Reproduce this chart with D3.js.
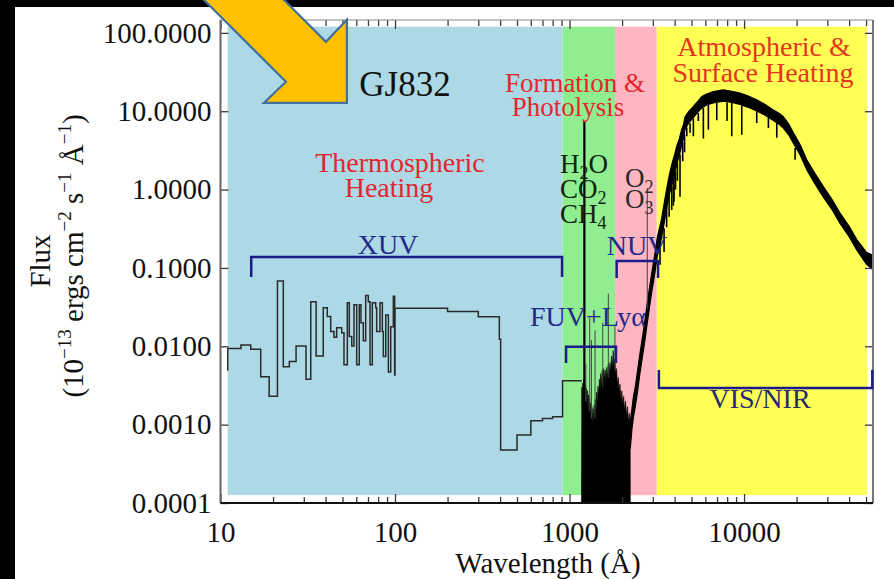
<!DOCTYPE html>
<html>
<head>
<meta charset="utf-8">
<script src="https://cdn.jsdelivr.net/npm/d3@7"></script>
<style>
  html, body { margin: 0; padding: 0; background: #000; }
  svg { display: block; }
  text { font-family: "Liberation Serif", "Times New Roman", serif; }
</style>
</head>
<body>
<svg id="chart" width="894" height="579"></svg>
<script>
// ---------------- data ----------------
// spectral regions (Å): XUV | FUV | NUV | VIS/NIR
const bandEdges = [11, 912, 1820, 3160, 50700];

// X-ray / EUV binned spectrum: bin start wavelength (Å) and flux
const xuvBinStart = [10.9, 11.0, 13.1, 14.9, 17.0, 19.0, 21.2, 22.9, 24.8, 27.1, 30.9, 32.9, 35.3, 38.8,
  40.9, 42.8, 44.7, 46.3, 49.5, 51.0, 53.3, 54.7, 56.5, 58.2, 60.3, 62.4, 63.8, 65.8, 67.9, 70.3,
  71.9, 74.1, 77.5, 78.5, 82.0, 84.6, 85.7, 88.5, 91.6, 94.5, 97.8, 99.5, 100, 200, 300, 396, 403,
  500, 600, 700, 800, 912];
const xuvBinFlux = [0.0050, 0.0094, 0.0104, 0.0092, 0.0041, 0.0023, 0.068, 0.0055, 0.0064, 0.0101, 0.0038, 0.037, 0.0075, 0.031,
  0.024, 0.0154, 0.0130, 0.0173, 0.0149, 0.0058, 0.036, 0.0133, 0.0101, 0.034, 0.0058, 0.034, 0.020, 0.0118, 0.0445, 0.037,
  0.0058, 0.036, 0.031, 0.0154, 0.036, 0.0154, 0.0074, 0.025, 0.0047, 0.0178, 0.0434, 0.0043, 0.0306, 0.0277, 0.0239, 0.0123, 0.000475,
  0.000738, 0.00112, 0.00120, 0.00126, 0.00364];
const xuvLastEdge = 1175;

// FUV pseudo-continuum (Å, flux)
const fuvSpectrum = [
  [1170, 1e-4], [1175, 0.0030], [1183, 0.0018], [1190, 0.0034], [1197, 0.0021], [1204, 0.0038], [1211, 0.0024],
  [1220, 0.0036], [1228, 0.0020], [1236, 0.0032], [1244, 0.0017], [1252, 0.0029], [1260, 0.0016], [1268, 0.0027],
  [1277, 0.0014], [1286, 0.0024], [1295, 0.0013], [1304, 0.0022], [1313, 0.0012], [1322, 0.0019], [1332, 0.0011],
  [1342, 0.0017], [1352, 0.0010], [1362, 0.0016], [1373, 0.0011], [1384, 0.0018], [1395, 0.0012], [1406, 0.0021],
  [1418, 0.0015], [1430, 0.0026], [1442, 0.0019], [1455, 0.0031], [1468, 0.0023], [1481, 0.0038], [1495, 0.0027],
  [1509, 0.0045], [1523, 0.0033], [1538, 0.0049], [1553, 0.0036], [1568, 0.0052], [1584, 0.0039], [1600, 0.0050],
  [1616, 0.0037], [1633, 0.0054], [1650, 0.0040], [1667, 0.0058], [1685, 0.0043], [1703, 0.0062], [1721, 0.0046],
  [1740, 0.0075], [1759, 0.0052], [1778, 0.0088], [1798, 0.0056], [1818, 0.0070], [1838, 0.0045], [1859, 0.0052],
  [1880, 0.0033], [1902, 0.0040], [1924, 0.0026], [1946, 0.0033], [1970, 0.0021], [1994, 0.0027], [2018, 0.0018],
  [2043, 0.0023], [2068, 0.0015], [2094, 0.0020], [2120, 0.0013], [2147, 0.0017], [2174, 0.0011], [2202, 0.0014],
  [2225, 0.0010], [2230, 1e-4]
];

// emission lines: wavelength (Å), flux at base, peak flux
const lineWave = [1216, 1240, 1305, 1335, 1400, 1550, 1668, 1820, 2790];
const lineBase = [0.002, 0.002, 0.0015, 0.0012, 0.0012, 0.003, 0.004, 0.005, 0.03];
const linePeak = [7.4, 0.006, 0.023, 0.012, 0.016, 0.020, 0.047, 0.018, 1.05];

// NUV to NIR spectrum: wavelength (Å) with upper and lower envelope of the flux
const uvoWave = [2230, 2280, 2330, 2380, 2430, 2480, 2530, 2580, 2630, 2680, 2730, 2780, 2830, 2880, 2930, 2980,
  3030, 3080, 3130, 3180, 3250, 3350, 3436, 3550, 3650, 3767, 3900, 4000, 4116, 4250, 4395, 4500, 4592, 4800,
  5121, 5400, 5722, 6100, 6668, 7610, 8500, 9480, 10500, 11820, 13200, 14720, 16000, 16800, 18000, 19170,
  21000, 22860, 25500, 28460, 32000, 35480, 40000, 44240, 50000, 54800];
const uvoHigh = [0.0011, 0.0016, 0.0024, 0.0030, 0.0042, 0.0058, 0.0080, 0.0105, 0.0140, 0.019, 0.025, 0.034, 0.045, 0.058, 0.075, 0.095,
  0.12, 0.15, 0.19, 0.24, 0.30, 0.40, 0.55, 0.85, 1.2, 1.7, 2.3, 2.8, 3.6, 4.4, 5.9, 6.8, 8.5, 9.8,
  11.5, 13.2, 15.4, 16.6, 17.8, 18.7, 18.0, 17.0, 15.7, 14.0, 12.2, 10.4, 9.3, 8.5, 6.9, 5.3,
  3.7, 2.4, 1.6, 1.09, 0.74, 0.50, 0.34, 0.23, 0.16, 0.145];
const uvoLow = [0.0005, 0.0009, 0.0013, 0.0017, 0.0023, 0.0032, 0.0045, 0.0060, 0.0080, 0.0105, 0.014, 0.019, 0.025, 0.033, 0.043, 0.055,
  0.068, 0.085, 0.11, 0.14, 0.17, 0.23, 0.31, 0.48, 0.68, 0.95, 1.25, 1.6, 2.1, 2.7, 3.7, 4.6, 5.9, 7.0,
  8.3, 9.6, 11.0, 12.0, 12.8, 13.4, 13.0, 12.2, 11.3, 10.1, 8.9, 7.6, 6.7, 6.1, 5.0, 3.9,
  2.75, 1.8, 1.18, 0.80, 0.55, 0.37, 0.25, 0.17, 0.113, 0.095];

// deep absorption features: wavelength (Å), flux at top, flux at bottom
const dipWave = [3300, 3480, 3600, 3720, 3850, 3934, 3968, 4050, 4150, 4295, 4450, 4560, 4695, 4904, 5123, 5470,
  5845, 6245, 6975, 7990, 8500, 9700, 11820, 13785, 15395, 19605];
const dipFrom = [0.22, 0.32, 0.6, 0.9, 1.1, 1.5, 1.6, 1.7, 2.2, 2.8, 4.0, 5.0, 6.2, 7.0, 8.1, 9.5,
  11.0, 12.0, 12.8, 13.0, 12.8, 11.8, 10.0, 8.3, 7.2, 3.4];
const dipTo   = [0.11, 0.16, 0.33, 0.45, 0.55, 0.62, 0.70, 1.0, 1.3, 0.81, 2.3, 3.0, 4.8, 5.3, 4.8, 7.5,
  4.5, 5.8, 7.7, 7.5, 4.8, 5.0, 7.1, 6.1, 4.6, 2.4];

// wavelength ranges marked with brackets: [label, from Å, to Å]
const rangeNames = ["XUV", "FUV+Lyα", "NUV", "VIS/NIR"];
const rangeFrom  = [15, 955, 1862, 3250];
const rangeTo    = [906, 1846, 3215, 54300];

// axis ticks
const xTicks = [10, 100, 1000, 10000];
const xTickLabels = ["10", "100", "1000", "10000"];
const yTicks = [1e-4, 1e-3, 1e-2, 1e-1, 1, 10, 100];
const yTickLabels = ["0.0001", "0.0010", "0.0100", "0.1000", "1.0000", "10.0000", "100.0000"];

// ---------------- drawing ----------------
const W = 894, H = 579;
const serif = "'Liberation Serif', 'Times New Roman', serif";
const svg = d3.select("#chart");

// slide page
svg.append("rect").attr("x", 15).attr("y", 7).attr("width", W - 15).attr("height", H - 7).attr("fill", "#fff");

const plotL = 220.5, plotR = 873, plotT = 20, plotB = 503;
const x = d3.scaleLog().domain([10, 54800]).range([plotL, plotR]);
const y = d3.scaleLog().domain([1e-4, 146]).range([plotB, plotT]);

svg.append("clipPath").attr("id", "plotclip")
  .append("rect").attr("x", plotL).attr("y", plotT).attr("width", plotR - plotL).attr("height", plotB - plotT);

const plot = svg.append("g").attr("clip-path", "url(#plotclip)");

// coloured regions
const bandColors = ["#add8e6", "#90ee90", "#ffb6c1", "#ffff55"];
const bandFloor = 1.26e-4, bandCeil = 120;
plot.append("g").selectAll("rect")
  .data(d3.range(bandEdges.length - 1))
  .join("rect")
  .attr("x", i => x(bandEdges[i]))
  .attr("width", i => x(bandEdges[i + 1]) - x(bandEdges[i]))
  .attr("y", y(bandCeil))
  .attr("height", y(bandFloor) - y(bandCeil))
  .attr("fill", i => bandColors[i]);

// XUV binned spectrum as steps
const xuvPts = xuvBinStart.map((w, i) => [w, xuvBinFlux[i]]);
xuvPts.push([xuvLastEdge, xuvBinFlux[xuvBinFlux.length - 1]]);
plot.append("path")
  .attr("d", d3.line().x(d => x(d[0])).y(d => y(d[1])).curve(d3.curveStepAfter)(xuvPts))
  .attr("fill", "none").attr("stroke", "#2a2a2a").attr("stroke-width", 1.5);

// FUV forest, filled down to the axis floor
plot.append("path")
  .attr("d", d3.area().x(d => x(d[0])).y0(y(1e-4)).y1(d => y(d[1]))(fuvSpectrum))
  .attr("fill", "#000").attr("stroke", "#000").attr("stroke-width", 0.6);

// NUV - NIR spectrum band
const uvoPts = uvoWave.map((w, i) => ({ w, hi: uvoHigh[i], lo: uvoLow[i] }));
plot.append("path")
  .attr("d", d3.area().x(d => x(d.w)).y0(d => y(d.lo)).y1(d => y(d.hi))(uvoPts))
  .attr("fill", "#000").attr("stroke", "#000").attr("stroke-width", 1.2).attr("stroke-linejoin", "round");

// absorption features
plot.append("g").selectAll("line")
  .data(dipWave.map((w, i) => [w, dipFrom[i], dipTo[i]]))
  .join("line")
  .attr("x1", d => x(d[0])).attr("x2", d => x(d[0]))
  .attr("y1", d => y(d[1])).attr("y2", d => y(d[2]))
  .attr("stroke", "#000").attr("stroke-width", 1.6);

// emission lines
plot.append("g").selectAll("line")
  .data(lineWave.map((w, i) => [w, lineBase[i], linePeak[i]]))
  .join("line")
  .attr("x1", d => x(d[0])).attr("x2", d => x(d[0]))
  .attr("y1", d => y(d[1])).attr("y2", d => y(d[2]))
  .attr("stroke", (d, i) => i === 0 ? "#000" : "#444")
  .attr("stroke-width", (d, i) => i === 0 ? 2.2 : 1);

// ---------------- axes ----------------
const axisColor = "#3a3a3a";
const minorX = [];
for (let e = 1; e <= 4; e++) for (let m = 2; m <= 9; m++) {
  const v = m * Math.pow(10, e);
  if (v < 54800) minorX.push(v);
}
function styleAxis(g) {
  g.attr("font-family", serif);
  g.select(".domain").remove();
  g.selectAll(".tick line").attr("stroke", axisColor).attr("stroke-width", 1.3);
  g.selectAll(".tick text").attr("fill", "#111").attr("font-size", 29).attr("font-family", serif);
}
svg.append("g").attr("transform", `translate(0,${plotB})`)
  .call(d3.axisBottom(x).tickValues(xTicks).tickSize(-9).tickPadding(18)
    .tickFormat((d, i) => xTickLabels[i]))
  .call(styleAxis);
svg.append("g").attr("transform", `translate(0,${plotB})`)
  .call(d3.axisBottom(x).tickValues(minorX).tickSize(-6).tickFormat(""))
  .call(styleAxis);
svg.append("g").attr("transform", `translate(0,${plotT})`)
  .call(d3.axisTop(x).tickValues(xTicks).tickSize(-9).tickFormat(""))
  .call(styleAxis);
svg.append("g").attr("transform", `translate(0,${plotT})`)
  .call(d3.axisTop(x).tickValues(minorX).tickSize(-6).tickFormat(""))
  .call(styleAxis);
svg.append("g").attr("transform", `translate(${plotL},0)`)
  .call(d3.axisLeft(y).tickValues(yTicks).tickSize(-8).tickPadding(9)
    .tickFormat((d, i) => yTickLabels[i]))
  .call(styleAxis);
svg.append("g").attr("transform", `translate(${plotR},0)`)
  .call(d3.axisRight(y).tickValues(yTicks).tickSize(-8).tickFormat(""))
  .call(styleAxis);

// frame
svg.append("line").attr("x1", plotL).attr("x2", plotL).attr("y1", plotT).attr("y2", plotB)
  .attr("stroke", "#666").attr("stroke-width", 2);
svg.append("line").attr("x1", plotR).attr("x2", plotR).attr("y1", plotT).attr("y2", plotB)
  .attr("stroke", "#777").attr("stroke-width", 2);
svg.append("line").attr("x1", plotL).attr("x2", plotR).attr("y1", plotB).attr("y2", plotB)
  .attr("stroke", "#111").attr("stroke-width", 2);
svg.append("line").attr("x1", plotL).attr("x2", plotR).attr("y1", plotT).attr("y2", plotT)
  .attr("stroke", "#888").attr("stroke-width", 1.2);

// axis titles
svg.append("text").attr("x", 548).attr("y", 573).attr("text-anchor", "middle")
  .attr("font-size", 29).attr("fill", "#111").attr("font-family", serif).text("Wavelength (Å)");
svg.append("text").attr("transform", "translate(50,261) rotate(-90)").attr("text-anchor", "middle")
  .attr("font-size", 29).attr("fill", "#111").attr("font-family", serif).text("Flux");
const yt2 = svg.append("text").attr("transform", "translate(83,256) rotate(-90)").attr("text-anchor", "middle")
  .attr("font-size", 29).attr("fill", "#111").attr("font-family", serif);
[["(10", 0], ["−13", 1], [" ergs cm", 0], ["−2", 1], [" s", 0], ["−1", 1], [" Å", 0], ["−1", 1], [")", 0]]
  .forEach(([t, sup], i, arr) => {
    const prevSup = i > 0 ? arr[i - 1][1] : 0;
    const dy = sup && !prevSup ? -12 : (!sup && prevSup ? 12 : 0);
    yt2.append("tspan").attr("dy", dy).attr("font-size", sup ? 19 : 29).text(t);
  });

// ---------------- range brackets ----------------
const bracketColor = "#1b1b8c";
// level (flux) of bracket bar and of its end ticks
const bracketBar = [0.138, 0.0099, 0.123, 0.00294];
const bracketEnd = [0.0767, 0.0061, 0.0745, 0.0050];
rangeNames.forEach((name, i) => {
  const x1 = x(rangeFrom[i]), x2 = x(rangeTo[i]);
  const yb = y(bracketBar[i]), ye = y(bracketEnd[i]);
  svg.append("path")
    .attr("d", `M${x1},${ye}V${yb}H${x2}V${ye}`)
    .attr("fill", "none").attr("stroke", bracketColor).attr("stroke-width", 2.5);
});

// ---------------- labels ----------------
const red = "#e4262c", navy = "#1f2a8c";
function label(txt, px, py, color, size, anchor = "middle") {
  return svg.append("text").attr("x", px).attr("y", py).attr("text-anchor", anchor)
    .attr("font-size", size).attr("fill", color).attr("font-family", serif).text(txt);
}
label("GJ832", 405, 96, "#111", 35);
label("Thermospheric", 400, 172, red, 28);
label("Heating", 389, 197, red, 28);
label("Formation &", 575, 92, red, 27);
label("Photolysis", 568, 116, red, 27);
label("Atmospheric &", 764, 56, "#e3361e", 28);
label("Surface Heating", 763, 82, "#e3361e", 28);
label(rangeNames[0], 388, 254, navy, 28);
label(rangeNames[1], 588, 326, navy, 28);
label(rangeNames[2], 637, 255, navy, 28);
label(rangeNames[3], 760, 408, "#262a70", 28);

function molecule(parts, px, py, color) {
  const t = svg.append("text").attr("x", px).attr("y", py).attr("font-size", 27)
    .attr("fill", color).attr("font-family", serif);
  parts.forEach(([s, sub], i, arr) => {
    const prevSub = i > 0 ? arr[i - 1][1] : 0;
    const dy = sub && !prevSub ? 6 : (!sub && prevSub ? -6 : 0);
    t.append("tspan").attr("dy", dy).attr("font-size", sub ? 18 : 27).text(s);
  });
}
molecule([["H", 0], ["2", 1], ["O", 0]], 560, 173, "#0e240e");
molecule([["CO", 0], ["2", 1]], 560, 198, "#0e240e");
molecule([["CH", 0], ["4", 1]], 560, 223, "#0e240e");
molecule([["O", 0], ["2", 1]], 625, 187, "#2a2a2a");
molecule([["O", 0], ["3", 1]], 625, 208, "#2a2a2a");

// ---------------- pointer arrow ----------------
const arrowTip = [53, 12.8];
const tx = x(arrowTip[0]), ty = y(arrowTip[1]);
const arrowShape = [[0, 0], [0, -83], [-21, -61], [-111, -151], [-151, -111], [-61, -21], [-83, 0]];
svg.append("polygon")
  .attr("points", arrowShape.map(p => `${tx + p[0]},${ty + p[1]}`).join(" "))
  .attr("fill", "#ffc000").attr("stroke", "#41719c").attr("stroke-width", 2.2).attr("stroke-linejoin", "miter");
</script>
</body>
</html>
